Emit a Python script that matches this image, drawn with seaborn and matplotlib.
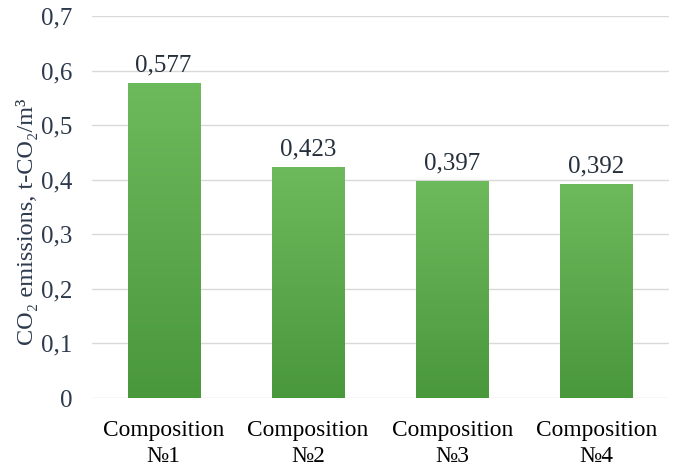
import numpy as np
import pandas as pd
import matplotlib as mpl
mpl.use('Agg')
import seaborn as sns
import matplotlib.pyplot as plt
from matplotlib.colors import LinearSegmentedColormap

categories = ['Composition\n№1', 'Composition\n№2', 'Composition\n№3', 'Composition\n№4']
emissions = [0.577, 0.423, 0.397, 0.392]
value_labels = ['0,577', '0,423', '0,397', '0,392']
y_ticks = [0.0, 0.1, 0.2, 0.3, 0.4, 0.5, 0.6, 0.7]
y_ticklabels = ['0', '0,1', '0,2', '0,3', '0,4', '0,5', '0,6', '0,7']

sns.set_theme(style='white')
plt.rcParams['font.family'] = ['Liberation Serif', 'DejaVu Serif']

df = pd.DataFrame({'comp': categories, 'co2': emissions})

fig = plt.figure(figsize=(6.83, 4.69), dpi=100)
ax = fig.add_axes([91.5 / 683, 71 / 469, 577 / 683, 382 / 469])

sns.barplot(data=df, x='comp', y='co2', color='#5cac4c', width=0.5,
            saturation=1, ax=ax, zorder=2)

# vertical gradient inside each bar
grad_cmap = LinearSegmentedColormap.from_list('g', ['#4a983c', '#6cba5c'])
grad = np.linspace(0, 1, 256).reshape(-1, 1)
for patch in ax.patches:
    x0, y0 = patch.get_x(), patch.get_y()
    w, h = patch.get_width(), patch.get_height()
    im = ax.imshow(grad, cmap=grad_cmap, aspect='auto', origin='lower',
                   extent=(x0, x0 + w, y0, y0 + h), zorder=3)
    im.set_clip_path(patch)
    patch.set_edgecolor('none')

for i, (v, lab) in enumerate(zip(emissions, value_labels)):
    ax.text(i, v + 0.012, lab, ha='center', va='bottom', fontsize=18,
            color='#26303c', zorder=4)

ax.set_xlim(-0.5, 3.5)
ax.set_ylim(0, 0.7)
ax.set_yticks(y_ticks)
ax.set_yticklabels(y_ticklabels, fontsize=18, color='#2d3a4d')
ax.tick_params(axis='x', labelsize=16.8, labelcolor='black', length=0, pad=16)
ax.tick_params(axis='y', length=0, pad=14)
ax.grid(axis='y', color='#d9d9d9', linewidth=1, zorder=0)
ax.set_axisbelow(True)
for s in ax.spines.values():
    s.set_visible(False)

ax.set_xlabel('')
ax.set_ylabel('CO₂ emissions, t-CO₂/m³', fontsize=17.5, color='#2d3a4d')
ax.yaxis.set_label_coords(-0.093, 0.46)
for t in ax.get_xticklabels():
    t.set_linespacing(1.3)

fig.savefig('out.png', dpi=100)
